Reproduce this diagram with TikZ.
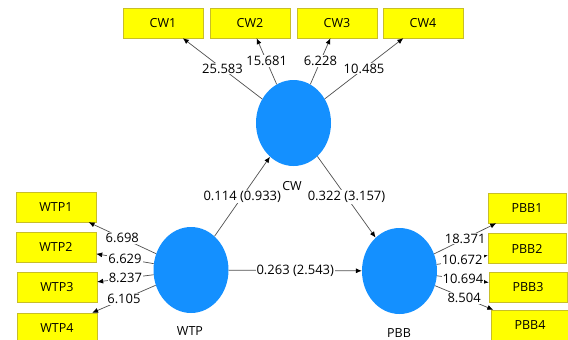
\documentclass[tikz,border=0pt]{standalone}
\usepackage{fontspec}
\setmainfont{Open Sans}
\usetikzlibrary{arrows.meta,positioning,shapes.geometric}
\definecolor{itemyellow}{RGB}{255,255,0}
\definecolor{itemframe}{RGB}{200,190,40}
\definecolor{latentblue}{RGB}{20,144,255}
\definecolor{pathgray}{RGB}{80,80,80}
\tikzset{
  itembox/.style={draw=itemframe, fill=itemyellow, minimum width=80pt, minimum height=30pt, inner sep=0pt, font=\fontsize{12.5}{14}\selectfont},
  latent/.style={ellipse, fill=latentblue, minimum width=75pt, minimum height=86pt, inner sep=0pt},
  latentname/.style={font=\fontsize{12.5}{14}\selectfont},
  arrow/.style={draw=pathgray, line width=0.7pt, -{Latex[length=6pt,width=5pt,black]}},
  coef/.style={fill=white, inner sep=1pt, font=\fontsize{13}{15}\selectfont}
}

\begin{document}
\begin{tikzpicture}[x=1pt, y=-1pt]
  \useasboundingbox[fill=white] (0,0) rectangle (568,340);
  \clip (0,0) rectangle (568,340);

  % latent variables
  \node[latent] (cw)  at (293.5,123) {};
  \node[latent] (wtp) at (191,270) {};
  \node[latent] (pbb) at (399.5,271) {};
  \node[latentname] (cwname)  at (292,186) {CW};
  \node[latentname] (wtpname) at (190,331) {WTP};
  \node[latentname] (pbbname) at (399,333) {PBB};

  % indicators
  \node[itembox] (cw1) at (163,23) {CW1};
  \node[itembox] (cw2) at (250,23) {CW2};
  \node[itembox] (cw3) at (337,23) {CW3};
  \node[itembox] (cw4) at (423,23) {CW4};

  \node[itembox] (wtp1) at (56,207) {WTP1};
  \node[itembox] (wtp2) at (56,247) {WTP2};
  \node[itembox] (wtp3) at (57,287) {WTP3};
  \node[itembox] (wtp4) at (57,328) {WTP4};

  \node[itembox, minimum width=78pt] (pbb1) at (527,208) {PBB1};
  \node[itembox, minimum width=78pt] (pbb2) at (527,248.5) {PBB2};
  \node[itembox, minimum width=78pt] (pbb3) at (528,287.5) {PBB3};
  \node[itembox, minimum width=78pt] (pbb4) at (530,325) {PBB4};

  % outer loadings
  \draw[arrow] (cw) -- node[coef] {25.583} (cw1);
  \draw[arrow] (cw) -- node[coef] {15.681} (cw2);
  \draw[arrow] (cw) -- node[coef] {6.228} (cw3);
  \draw[arrow] (cw) -- node[coef] {10.485} (cw4);

  \draw[arrow] (wtp) -- node[coef] {6.698} (wtp1);
  \draw[arrow] (wtp) -- node[coef] {6.629} (wtp2);
  \draw[arrow] (wtp) -- node[coef] {8.237} (wtp3);
  \draw[arrow] (wtp) -- node[coef] {6.105} (wtp4);

  \draw[arrow] (pbb) -- node[coef] {18.371} (pbb1);
  \draw[arrow] (pbb) -- node[coef] {10.672} (pbb2);
  \draw[arrow] (pbb) -- node[coef] {10.694} (pbb3);
  \draw[arrow] (pbb) -- node[coef] {8.504} (pbb4);

  % inner paths
  \draw[arrow] (wtp) -- node[coef] {0.114 (0.933)} (cw);
  \draw[arrow] (cw) -- node[coef] {0.322 (3.157)} (pbb);
  \draw[arrow] (wtp) -- node[coef] {0.263 (2.543)} (pbb);
\end{tikzpicture}
\end{document}
